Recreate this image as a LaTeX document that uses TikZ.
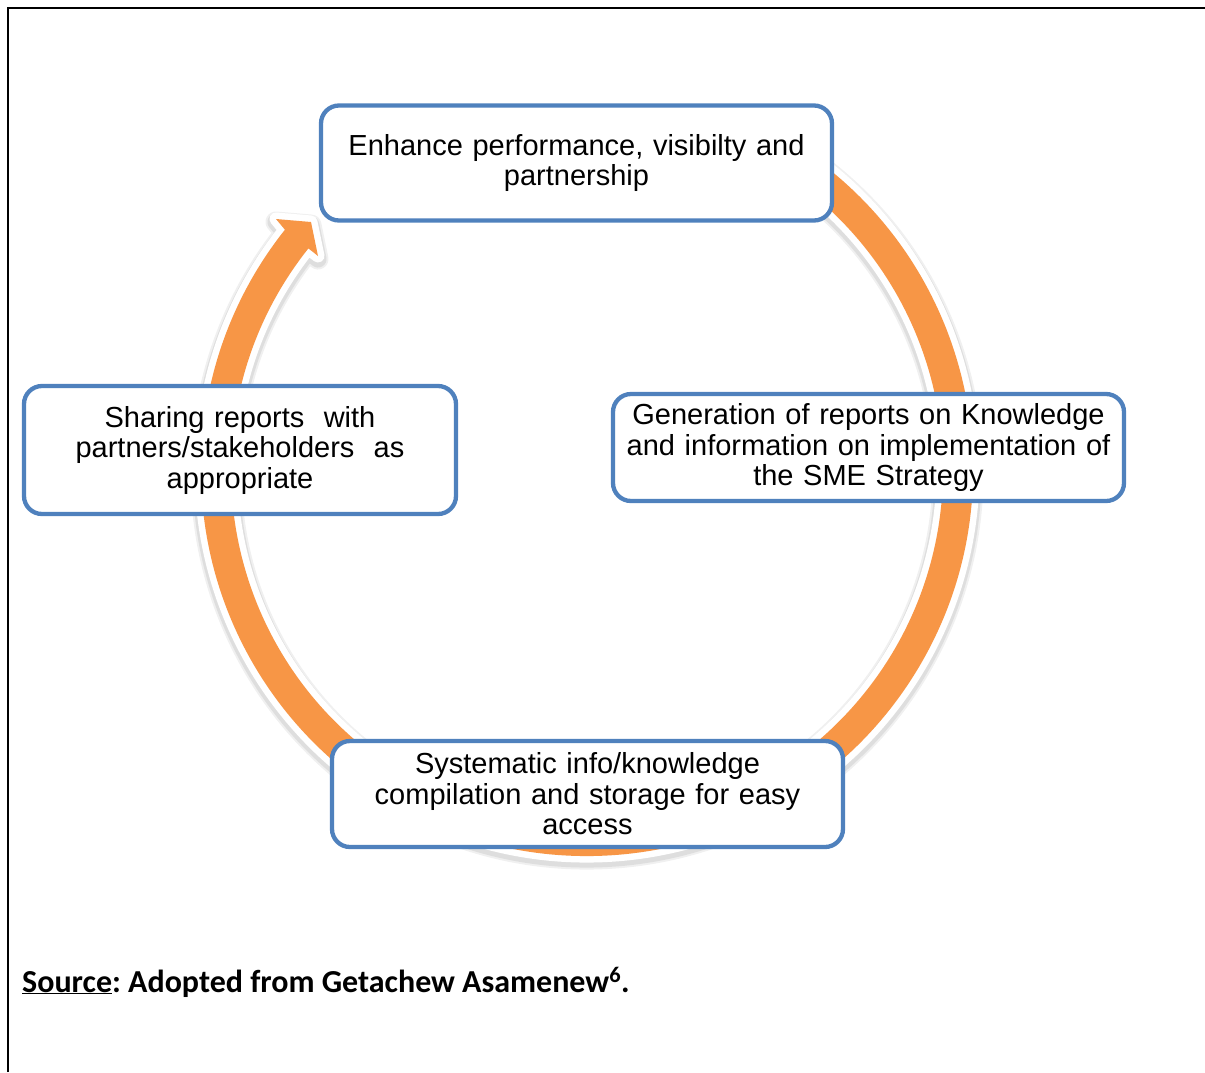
\documentclass[tikz,border=0pt]{standalone}
\usepackage{fontspec}
\setmainfont{Liberation Sans}
\newfontfamily\srcfont{Carlito}
\definecolor{boxblue}{HTML}{4F81BD}
\definecolor{arcorange}{HTML}{F79646}
\frenchspacing
\newcommand\cyclearrow{([shift={(587,-470)}]58:386) arc[start angle=58,end angle=-218.5,radius=386] -- (276,-219) -- (311,-222) -- (318,-256) -- ([shift={(587,-470)}]-218.5:356) arc[start angle=-218.5,end angle=58,radius=356] -- cycle}
\begin{document}
\begin{tikzpicture}[x=1pt,y=1pt,
  stagebox/.style={draw=boxblue, line width=4.3pt, fill=white, rounded corners=18pt,
    inner sep=0pt, align=center, font=\fontsize{29}{30.5}\selectfont},
  framestyle/.style={line width=2.7pt, black}]
\useasboundingbox (0,0) rectangle (1205,-1072);
\draw[framestyle] (8,-1072) -- (8,-8) -- (1205,-8);
% cycle arrow with soft shadow and white outline
\begin{scope}[yshift=-3pt]
\draw[black!6, line width=21pt, line join=round] \cyclearrow;
\draw[black!13, line width=17pt, line join=round] \cyclearrow;
\end{scope}
\filldraw[white, line width=13pt, line join=round] \cyclearrow;
\fill[arcorange] \cyclearrow;
% stage boxes
\node[stagebox, minimum width=511pt, minimum height=115pt, text width=505pt] (enhance) at (576.5,-163)
  {Enhance performance, visibilty and\\partnership};
\node[stagebox, minimum width=511pt, minimum height=107pt, text width=505pt] (generation) at (868.5,-447.5)
  {Generation of reports on Knowledge\\and information on implementation of\\the SME Strategy};
\node[stagebox, minimum width=511pt, minimum height=106pt, text width=505pt] (systematic) at (587.5,-794)
  {Systematic info/knowledge\\compilation and storage for easy\\access};
\node[stagebox, minimum width=432pt, minimum height=128pt, text width=426pt] (sharing) at (240,-450)
  {Sharing reports~ with\\partners/stakeholders~ as\\appropriate};
% source line
\node[anchor=base west, inner sep=0pt, font=\srcfont\bfseries\fontsize{32}{38}\selectfont] (source) at (22,-992)
  {\underline{Source}: Adopted from Getachew Asamenew\textsuperscript{6}.};
\end{tikzpicture}
\end{document}
